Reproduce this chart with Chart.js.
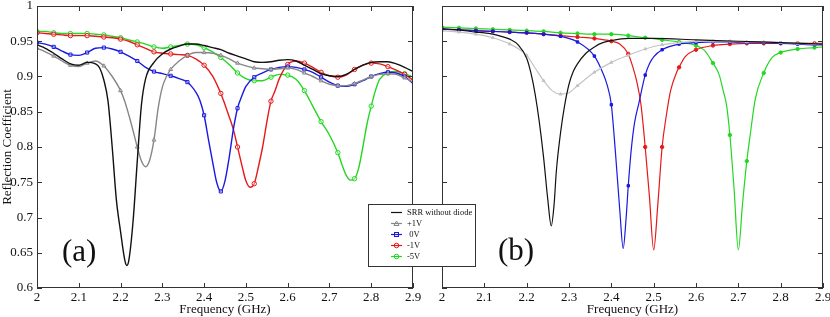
<!DOCTYPE html>
<html lang="en">
<head>
<meta charset="UTF-8" />
<title>Reflection Coefficient vs Frequency</title>
<script src="https://cdn.jsdelivr.net/npm/chart.js@4.4.1/dist/chart.umd.min.js"></script>
<style>
  body { margin: 0; background: #fff; }
  #wrap { position: relative; width: 830px; height: 317px; overflow: hidden; font-family: "Liberation Serif", serif; }
  #chartA { position: absolute; left: 0; top: 0; }
  #chartB { position: absolute; left: 420px; top: 0; }
  .tag { position: absolute; font-size: 31px; line-height: 1; color: #111; }
  #legend {
    position: absolute; left: 368px; top: 204px; width: 108px; height: 63px;
    box-sizing: border-box; border: 1px solid #333; background: #fff;
    padding-top: 1.5px; font-size: 8.5px; color: #111;
  }
  #legend .row { height: 11px; display: flex; align-items: center; white-space: pre; }
  #legend svg { margin-left: 22px; margin-right: 5px; }
</style>
</head>
<body>
<div id="wrap">
  <canvas id="chartA" width="430" height="317"></canvas>
  <canvas id="chartB" width="410" height="317"></canvas>
  <div class="tag" style="left:62px;top:235px">(a)</div>
  <div class="tag" style="left:498px;top:234px">(b)</div>
  <div id="legend"></div>
</div>
<script>
// axes
const xTickValues = [2, 2.1, 2.2, 2.3, 2.4, 2.5, 2.6, 2.7, 2.8, 2.9];
const xTickLabels = ["2", "2.1", "2.2", "2.3", "2.4", "2.5", "2.6", "2.7", "2.8", "2.9"];
const yTickValues = [0.6, 0.65, 0.7, 0.75, 0.8, 0.85, 0.9, 0.95, 1];
const yTickLabels = ["0.6", "0.65", "0.7", "0.75", "0.8", "0.85", "0.9", "0.95", "1"];

const seriesNames = ["SRR without diode", "+1V", " 0V", "-1V", "-5V"];

// panel (a): measured
const freqA_srr = [2.00,2.02,2.04,2.06,2.08,2.10,2.12,2.14,2.15,2.16,2.17,2.18,2.19,2.20,2.21,2.215,2.22,2.23,2.24,2.25,2.26,2.28,2.30,2.32,2.34,2.36,2.38,2.40,2.42,2.44,2.46,2.48,2.50,2.52,2.54,2.56,2.58,2.60,2.62,2.64,2.66,2.68,2.70,2.72,2.74,2.76,2.78,2.80,2.82,2.84,2.86,2.88,2.90];
const reflA_srr = [0.945,0.940,0.933,0.925,0.918,0.916,0.920,0.918,0.912,0.895,0.865,0.800,0.725,0.680,0.640,0.632,0.640,0.695,0.780,0.860,0.897,0.920,0.932,0.939,0.943,0.946,0.946,0.944,0.941,0.938,0.933,0.929,0.925,0.921,0.920,0.921,0.923,0.924,0.922,0.916,0.910,0.904,0.901,0.900,0.903,0.910,0.916,0.920,0.921,0.921,0.918,0.913,0.907];

const freqA_p1 = [2.00,2.02,2.04,2.06,2.08,2.10,2.12,2.14,2.16,2.18,2.20,2.21,2.22,2.23,2.24,2.25,2.26,2.27,2.28,2.29,2.30,2.31,2.32,2.34,2.36,2.38,2.40,2.42,2.44,2.46,2.48,2.50,2.52,2.54,2.56,2.58,2.60,2.62,2.64,2.66,2.68,2.70,2.72,2.74,2.76,2.78,2.80,2.82,2.84,2.86,2.88,2.90];
const reflA_p1 = [0.940,0.935,0.929,0.922,0.916,0.914,0.919,0.922,0.915,0.900,0.880,0.865,0.845,0.823,0.800,0.780,0.772,0.782,0.810,0.855,0.885,0.900,0.910,0.922,0.930,0.934,0.934,0.933,0.930,0.925,0.919,0.915,0.912,0.911,0.910,0.911,0.912,0.910,0.905,0.900,0.894,0.889,0.887,0.887,0.890,0.895,0.900,0.903,0.904,0.903,0.898,0.892];

const freqA_0 = [2.00,2.02,2.04,2.06,2.08,2.10,2.12,2.14,2.16,2.18,2.20,2.22,2.24,2.26,2.28,2.30,2.32,2.34,2.36,2.37,2.38,2.39,2.40,2.41,2.42,2.43,2.44,2.45,2.46,2.47,2.48,2.49,2.50,2.52,2.54,2.56,2.58,2.60,2.62,2.64,2.66,2.68,2.70,2.72,2.74,2.76,2.78,2.80,2.82,2.84,2.86,2.88,2.90];
const reflA_0 = [0.948,0.946,0.942,0.936,0.931,0.930,0.934,0.940,0.941,0.939,0.935,0.929,0.922,0.913,0.907,0.904,0.901,0.897,0.892,0.886,0.878,0.866,0.845,0.812,0.780,0.750,0.737,0.752,0.785,0.825,0.855,0.872,0.886,0.899,0.905,0.910,0.913,0.914,0.913,0.910,0.906,0.899,0.892,0.887,0.886,0.889,0.894,0.900,0.904,0.906,0.905,0.900,0.890];

const freqA_m1 = [2.00,2.02,2.04,2.06,2.08,2.10,2.12,2.14,2.16,2.18,2.20,2.22,2.24,2.26,2.28,2.30,2.32,2.34,2.36,2.38,2.40,2.42,2.44,2.45,2.46,2.47,2.48,2.49,2.50,2.51,2.52,2.53,2.54,2.55,2.56,2.57,2.58,2.60,2.62,2.64,2.66,2.68,2.70,2.72,2.74,2.76,2.78,2.80,2.82,2.84,2.86,2.88,2.90];
const reflA_m1 = [0.962,0.961,0.960,0.959,0.958,0.958,0.958,0.957,0.956,0.955,0.953,0.950,0.945,0.940,0.935,0.933,0.932,0.931,0.930,0.925,0.916,0.901,0.876,0.860,0.843,0.825,0.800,0.775,0.752,0.743,0.748,0.772,0.800,0.835,0.865,0.880,0.897,0.917,0.922,0.919,0.913,0.906,0.901,0.899,0.902,0.910,0.916,0.919,0.918,0.914,0.909,0.903,0.895];

const freqA_m5 = [2.00,2.02,2.04,2.06,2.08,2.10,2.12,2.14,2.16,2.18,2.20,2.22,2.24,2.26,2.28,2.30,2.32,2.34,2.36,2.38,2.40,2.42,2.44,2.46,2.48,2.50,2.52,2.54,2.56,2.58,2.60,2.62,2.64,2.66,2.68,2.70,2.72,2.73,2.74,2.75,2.76,2.77,2.78,2.79,2.80,2.81,2.82,2.84,2.86,2.88,2.90];
const reflA_m5 = [0.964,0.964,0.962,0.961,0.961,0.961,0.961,0.960,0.959,0.957,0.955,0.952,0.949,0.946,0.942,0.940,0.942,0.944,0.946,0.945,0.941,0.935,0.927,0.917,0.905,0.897,0.894,0.894,0.899,0.903,0.902,0.896,0.880,0.858,0.836,0.817,0.792,0.775,0.760,0.753,0.755,0.770,0.800,0.833,0.858,0.880,0.896,0.905,0.907,0.904,0.899];

// panel (b): simulated
const freqB_srr = [2.00,2.04,2.08,2.10,2.12,2.14,2.16,2.18,2.20,2.21,2.22,2.23,2.24,2.25,2.258,2.265,2.27,2.28,2.29,2.30,2.31,2.32,2.34,2.36,2.38,2.40,2.44,2.50,2.60,2.70,2.80,2.90];
const reflB_srr = [0.968,0.966,0.963,0.962,0.960,0.957,0.953,0.945,0.926,0.905,0.875,0.835,0.785,0.725,0.688,0.720,0.765,0.820,0.860,0.889,0.907,0.918,0.933,0.942,0.948,0.951,0.954,0.954,0.952,0.950,0.948,0.946];

const freqB_p1 = [2.00,2.04,2.08,2.12,2.16,2.20,2.22,2.24,2.26,2.28,2.30,2.32,2.36,2.40,2.44,2.48,2.52,2.56,2.60,2.64,2.68,2.72,2.76,2.80,2.84,2.88,2.90];
const reflB_p1 = [0.965,0.963,0.960,0.955,0.946,0.930,0.912,0.894,0.880,0.875,0.877,0.887,0.906,0.920,0.930,0.939,0.945,0.948,0.950,0.950,0.950,0.949,0.949,0.948,0.947,0.946,0.946];

const freqB_0 = [2.00,2.04,2.08,2.12,2.16,2.20,2.24,2.28,2.32,2.36,2.38,2.39,2.40,2.41,2.42,2.428,2.435,2.44,2.447,2.455,2.465,2.475,2.48,2.49,2.50,2.52,2.56,2.60,2.64,2.68,2.72,2.76,2.80,2.84,2.88,2.90];
const reflB_0 = [0.967,0.966,0.965,0.964,0.963,0.962,0.960,0.957,0.949,0.929,0.905,0.888,0.860,0.790,0.710,0.656,0.700,0.745,0.796,0.835,0.862,0.890,0.902,0.918,0.928,0.938,0.946,0.948,0.949,0.949,0.948,0.948,0.947,0.946,0.945,0.945];

const freqB_m1 = [2.00,2.04,2.08,2.12,2.16,2.20,2.24,2.28,2.32,2.36,2.40,2.42,2.44,2.45,2.46,2.47,2.48,2.49,2.50,2.51,2.52,2.53,2.54,2.555,2.56,2.574,2.60,2.64,2.68,2.72,2.76,2.80,2.84,2.88,2.90];
const reflB_m1 = [0.967,0.966,0.965,0.964,0.963,0.962,0.960,0.958,0.956,0.954,0.950,0.946,0.932,0.915,0.893,0.860,0.800,0.730,0.654,0.720,0.800,0.845,0.880,0.907,0.913,0.928,0.938,0.944,0.946,0.947,0.947,0.947,0.947,0.947,0.947];

const freqB_m5 = [2.00,2.04,2.08,2.12,2.16,2.20,2.24,2.28,2.32,2.36,2.40,2.44,2.48,2.52,2.56,2.60,2.62,2.64,2.655,2.665,2.672,2.68,2.69,2.70,2.71,2.72,2.728,2.74,2.76,2.78,2.80,2.84,2.88,2.90];
const reflB_m5 = [0.970,0.969,0.968,0.967,0.966,0.965,0.964,0.962,0.961,0.960,0.960,0.958,0.955,0.952,0.949,0.944,0.937,0.919,0.902,0.878,0.860,0.817,0.740,0.654,0.720,0.780,0.817,0.868,0.905,0.927,0.934,0.939,0.941,0.942];

// styles
const colorsA = ["#111", "rgb(135,135,135)", "rgb(25,25,225)", "rgb(230,25,25)", "rgb(35,215,35)"];
const colorsB = ["#111", "rgb(195,195,195)", "rgb(25,25,225)", "rgb(230,25,25)", "rgb(35,215,35)"];
const markerStyles = [false, "triangle", "rect", "circle", "circle"];

const pts = (fs, vs) => fs.map((f, i) => ({ x: f, y: vs[i] }));
// a marker sits on every 0.04 GHz sample
const onGrid = (f) => Math.abs(f * 25 - Math.round(f * 25)) < 1e-6;

function makeDatasets(pairs, colors, hollow, radius, width) {
  return pairs.map(([fs, vs], i) => ({
    label: seriesNames[i],
    data: pts(fs, vs),
    borderColor: colors[i],
    borderWidth: width,
    cubicInterpolationMode: "monotone",
    pointStyle: markerStyles[i] || "circle",
    pointRadius: (c) => (markerStyles[i] && c.raw && onGrid(c.raw.x) ? radius : 0),
    pointBorderColor: colors[i],
    pointBorderWidth: 1,
    pointBackgroundColor: hollow ? "rgba(255,255,255,0.4)" : colors[i],
  }));
}

const frame = {
  id: "frame",
  afterDraw(chart) {
    const { ctx, chartArea: a, scales } = chart;
    const x = scales.x, y = scales.y, L = 5;
    ctx.save();
    ctx.strokeStyle = "#333";
    ctx.lineWidth = 1;
    ctx.strokeRect(a.left + 0.5, a.top + 0.5, a.width - 1, a.height - 1);
    ctx.beginPath();
    x.ticks.forEach((t) => {
      const p = Math.round(x.getPixelForValue(t.value)) + 0.5;
      ctx.moveTo(p, a.top); ctx.lineTo(p, a.top + L);
      ctx.moveTo(p, a.bottom); ctx.lineTo(p, a.bottom - L);
    });
    y.ticks.forEach((t) => {
      const p = Math.round(y.getPixelForValue(t.value)) + 0.5;
      ctx.moveTo(a.left, p); ctx.lineTo(a.left + L, p);
      ctx.moveTo(a.right, p); ctx.lineTo(a.right - L, p);
    });
    ctx.stroke();
    ctx.restore();
  },
};

const tickFont = { family: "Liberation Serif", size: 13 };

function makeOptions(yWidth, rightPad, showY) {
  return {
    responsive: false,
    animation: false,
    layout: { padding: { top: 6, right: rightPad, left: 0, bottom: 0 } },
    plugins: { legend: { display: false }, tooltip: { enabled: false } },
    scales: {
      x: {
        type: "linear", min: 2, max: 2.9,
        afterBuildTicks: (s) => { s.ticks = xTickValues.map((v) => ({ value: v })); },
        afterFit: (s) => { s.height = 29; s.paddingLeft = 0; s.paddingRight = 0; },
        grid: { display: false, drawTicks: false },
        border: { display: false },
        ticks: { padding: 2, color: "#111", font: tickFont, maxRotation: 0,
                 callback: (v, i) => xTickLabels[i] },
        title: { display: true, text: "Frequency (GHz)", color: "#111", font: tickFont,
                 padding: { top: 0, bottom: 0 } },
      },
      y: {
        type: "linear", min: 0.6, max: 1,
        afterBuildTicks: (s) => { s.ticks = yTickValues.map((v) => ({ value: v })); },
        afterFit: (s) => { s.width = yWidth; s.paddingTop = 0; s.paddingBottom = 0; },
        grid: { display: false, drawTicks: false },
        border: { display: false },
        ticks: { padding: 4, color: showY ? "#111" : "rgba(0,0,0,0)", font: tickFont,
                 callback: (v, i) => yTickLabels[i] },
        title: { display: showY, text: "Reflection Coefficient", color: "#111", font: tickFont,
                 padding: { top: 0, bottom: 0 } },
      },
    },
  };
}

new Chart(document.getElementById("chartA"), {
  type: "line",
  data: {
    datasets: makeDatasets(
      [[freqA_srr, reflA_srr], [freqA_p1, reflA_p1], [freqA_0, reflA_0], [freqA_m1, reflA_m1], [freqA_m5, reflA_m5]],
      colorsA, true, 2.2, 1.4),
  },
  options: makeOptions(37, 17, true),
  plugins: [frame],
});

new Chart(document.getElementById("chartB"), {
  type: "line",
  data: {
    datasets: makeDatasets(
      [[freqB_srr, reflB_srr], [freqB_p1, reflB_p1], [freqB_0, reflB_0], [freqB_m1, reflB_m1], [freqB_m5, reflB_m5]],
      colorsB, false, 1.7, 1.2),
  },
  options: makeOptions(22, 7, false),
  plugins: [frame],
});

// legend
const legend = document.getElementById("legend");
seriesNames.forEach((name, i) => {
  const c = colorsA[i];
  let mark = "";
  if (markerStyles[i] === "triangle") mark = `<polygon points="5.5,1 8,5.5 3,5.5" fill="none" stroke="${c}"/>`;
  else if (markerStyles[i] === "rect") mark = `<rect x="3.5" y="1.5" width="4" height="4" fill="none" stroke="${c}"/>`;
  else if (markerStyles[i] === "circle") mark = `<circle cx="5.5" cy="3.5" r="2.3" fill="none" stroke="${c}"/>`;
  const row = document.createElement("div");
  row.className = "row";
  row.innerHTML = `<svg width="11" height="7"><line x1="0" y1="3.5" x2="11" y2="3.5" stroke="${c}" stroke-width="1.2"/>${mark}</svg><span>${name}</span>`;
  legend.appendChild(row);
});
</script>
</body>
</html>
